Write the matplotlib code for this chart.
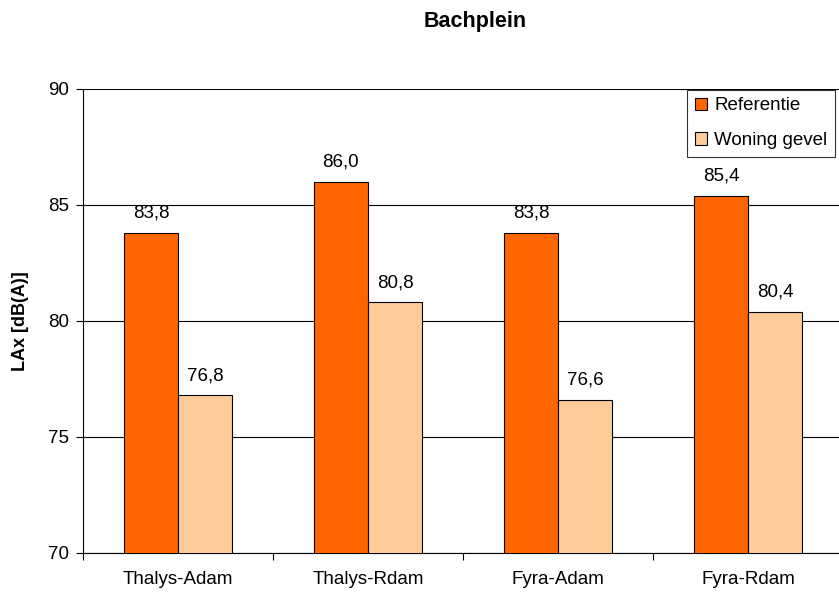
import matplotlib
matplotlib.use("Agg")
import matplotlib.pyplot as plt
import numpy as np

categories = ["Thalys-Adam", "Thalys-Rdam", "Fyra-Adam", "Fyra-Rdam"]
referentie = [83.8, 86.0, 83.8, 85.4]
woning_gevel = [76.8, 80.8, 76.6, 80.4]
series_names = ["Referentie", "Woning gevel"]
yticks = [70, 75, 80, 85, 90]

plt.rcParams['font.family'] = ['Liberation Sans', 'DejaVu Sans']

W, H = 839, 597
fig = plt.figure(figsize=(W/100, H/100), dpi=100)
ax = fig.add_axes([83/W, 1-553/H, 760/W, (553-89)/H])

fs = 13.5
x = np.arange(len(categories))
bw = 0.285
c1 = "#FF6600"
c2 = "#FFCC99"
b1 = ax.bar(x - bw/2, referentie, bw, color=c1, edgecolor="black", linewidth=0.8, label=series_names[0], zorder=3)
b2 = ax.bar(x + bw/2, woning_gevel, bw, color=c2, edgecolor="black", linewidth=0.8, label=series_names[1], zorder=3)

for bars, vals in ((b1, referentie), (b2, woning_gevel)):
    for r, v in zip(bars, vals):
        ax.annotate(f"{v:.1f}".replace(".", ","), (r.get_x() + r.get_width()/2, v),
                    xytext=(0, 8), textcoords="offset points", ha="center", va="bottom",
                    fontsize=fs)

ax.set_ylim(70, 90)
ax.set_xlim(-0.5, len(categories) - 0.5)
ax.set_yticks(yticks)
ax.set_yticklabels([str(t) for t in yticks], fontsize=fs)
ax.yaxis.grid(True, color="black", linewidth=0.8, zorder=0)
ax.set_axisbelow(True)

ax.set_xticks(x)
ax.set_xticklabels(categories, fontsize=fs)
ax.tick_params(axis='x', length=0, pad=13)
ax.set_xticks(np.arange(len(categories) + 1) - 0.5, minor=True)
ax.tick_params(axis='x', which='minor', length=5, width=0.8, direction='out')
ax.tick_params(axis='y', length=5, width=0.8, direction='out', pad=5)

for s in ("top", "right"):
    ax.spines[s].set_visible(False)
ax.spines["left"].set_linewidth(0.8)
ax.spines["bottom"].set_linewidth(0.8)

ax.set_ylabel("LAx [dB(A)]", fontsize=13, fontweight="bold", labelpad=14)
fig.text(475/W, 1-21/H, "Bachplein", ha="center", va="center", fontsize=15.5, fontweight="bold")

leg = fig.legend(handles=[b1, b2], labels=series_names, loc="upper left",
                 bbox_to_anchor=(687/W, 1-90/H), fontsize=fs, frameon=True,
                 fancybox=False, edgecolor="black", handlelength=0.65, handleheight=0.65,
                 handletextpad=0.4, borderpad=0.4, labelspacing=0.95, borderaxespad=0)
leg.get_frame().set_linewidth(0.8)

fig.savefig("out.png", dpi=100)
